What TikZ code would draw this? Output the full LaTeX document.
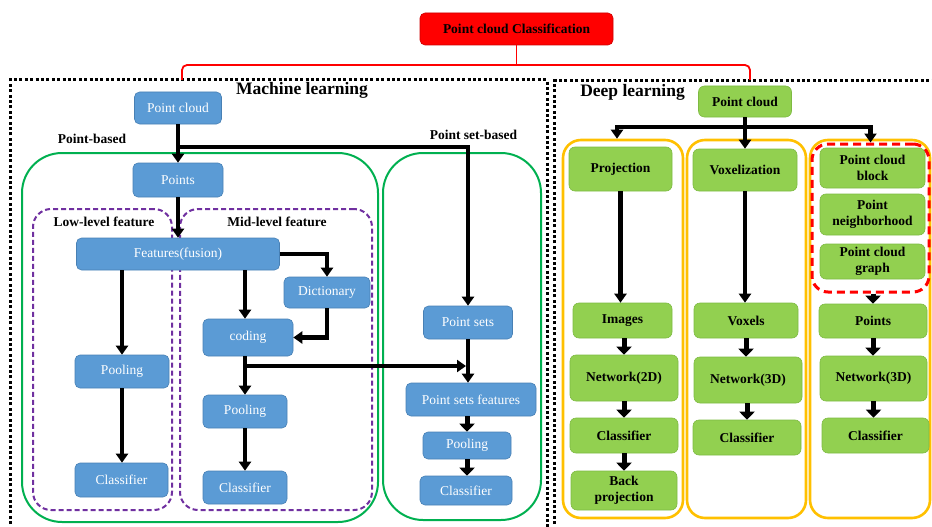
\documentclass[tikz,border=0pt]{standalone}
\usepackage{fontspec}
\setmainfont{Liberation Serif}
\usetikzlibrary{arrows.meta}

\newlength{\du}
\setlength{\du}{1pt}

\definecolor{blockblue}{RGB}{91,155,213}
\definecolor{blueedge}{RGB}{72,128,180}
\definecolor{blockgreen}{RGB}{146,208,80}
\definecolor{greenedge}{RGB}{126,186,66}
\definecolor{framegreen}{RGB}{0,176,80}
\definecolor{frameyellow}{RGB}{255,192,0}
\definecolor{framepurple}{RGB}{112,48,160}
\definecolor{titlered}{RGB}{255,0,0}

\tikzset{
  dims/.style 2 args={minimum width=#1\du, minimum height=#2\du},
  blueblock/.style={draw=blueedge, line width=0.6\du, fill=blockblue, rounded corners=5\du,
    text=white, font=\fontsize{13.5}{16}\selectfont, inner sep=0pt, align=center},
  greenblock/.style={draw=greenedge, line width=0.6\du, fill=blockgreen, rounded corners=6\du,
    text=black, font=\fontsize{13.5}{16}\selectfont\bfseries, inner sep=0pt, align=center},
  titleblock/.style={draw=titlered!80!black, line width=0.6\du, fill=titlered, rounded corners=5\du,
    text=black, font=\fontsize{13.5}{16}\selectfont\bfseries, inner sep=0pt},
  headline/.style={font=\fontsize{17.5}{20}\selectfont\bfseries, inner sep=0pt},
  grouplabel/.style={font=\fontsize{13.5}{16}\selectfont\bfseries, inner sep=0pt},
  arrowline/.style={draw=black, line width=4.2\du, -{Triangle[length=9pt,width=12pt]}},
  shortarrow/.style={draw=black, line width=5\du, -{Triangle[length=8pt,width=15pt]}},
  redline/.style={draw=titlered, line width=1.8\du},
  dotframe/.style={draw=black, line width=3\du, dash pattern=on 3pt off 2.4pt},
  greenframe/.style={draw=framegreen, line width=2\du, rounded corners=40\du, inner sep=0pt},
  purpleframe/.style={draw=framepurple, line width=2\du, dash pattern=on 5pt off 3pt,
    rounded corners=18\du, inner sep=0pt},
  yellowframe/.style={draw=frameyellow, line width=2.6\du, rounded corners=18\du, inner sep=0pt},
  redframe/.style={draw=titlered, line width=3\du, dash pattern=on 8pt off 5pt,
    rounded corners=16\du, inner sep=0pt}
}

\begin{document}
\begin{tikzpicture}
\pgftransformxscale{1.000000}
\pgftransformyscale{-1.000000}
\useasboundingbox (0\du,0\du) rectangle (932\du,527\du);

% frames
\draw[dotframe] (10\du,535\du) -- (10\du,80\du) -- (547\du,80\du) -- (547\du,535\du);
\draw[dotframe] (554\du,535\du) -- (554\du,81\du) -- (940\du,81\du);
\node[greenframe, dims={356}{369}] (ptframe) at (200\du,337.5\du) {};
\node[greenframe, dims={158}{367}] (setframe) at (462\du,336.5\du) {};
\node[purpleframe, dims={139}{301}] (lowframe) at (102.5\du,359.5\du) {};
\node[purpleframe, dims={192}{301}] (midframe) at (276\du,359.5\du) {};
\node[yellowframe, dims={120}{378}] (col1) at (623\du,329\du) {};
\node[yellowframe, dims={119}{378}] (col2) at (746.5\du,329\du) {};
\node[yellowframe, dims={120}{378}] (col3) at (870\du,329\du) {};
\node[redframe, dims={117}{148}] (pcgroup) at (870.5\du,218\du) {};

% title
\node[titleblock, dims={193}{32}] (title) at (516.5\du,29\du) {Point cloud Classification};
\coordinate (mlhook) at (182\du,80\du);
\coordinate (dlhook) at (750\du,80\du);
\draw[redline, rounded corners=5\du] (mlhook) -- (182\du,65\du) -- (750\du,65\du) -- (dlhook);
\draw[redline] (title.south) -- (title.south |- 0\du,65\du);

\node[headline] (mltitle) at (302\du,90\du) {Machine learning};
\node[headline] (dltitle) at (632.5\du,92\du) {Deep learning};
\node[grouplabel] (pbased) at (92\du,139\du) {Point-based};
\node[grouplabel] (psbased) at (473.5\du,135\du) {Point set-based};
\node[grouplabel] (lowlabel) at (104\du,222\du) {Low-level feature};
\node[grouplabel] (midlabel) at (277\du,222\du) {Mid-level feature};

% machine learning
\node[blueblock, dims={87}{32}] (mlcloud) at (178\du,108\du) {Point cloud};
\node[blueblock, dims={90}{34}] (mlpoints) at (178\du,180\du) {Points};
\node[blueblock, dims={203}{32}] (fusion) at (178\du,254\du) {Features(fusion)};
\node[blueblock, dims={86}{31}] (dict) at (327\du,292.5\du) {Dictionary};
\node[blueblock, dims={90}{37}] (coding) at (248\du,337.5\du) {coding};
\node[blueblock, dims={94}{33}] (poollow) at (122\du,371.5\du) {Pooling};
\node[blueblock, dims={93}{34}] (clslow) at (121.5\du,480\du) {Classifier};
\node[blueblock, dims={84}{33}] (poolmid) at (245\du,411.5\du) {Pooling};
\node[blueblock, dims={84}{33}] (clsmid) at (245\du,487.5\du) {Classifier};
\node[blueblock, dims={89}{33}] (psets) at (468\du,322.5\du) {Point sets};
\node[blueblock, dims={130}{33}] (psfeat) at (471\du,399.5\du) {Point sets features};
\node[blueblock, dims={88}{27}] (poolps) at (467\du,445.5\du) {Pooling};
\node[blueblock, dims={92}{29}] (clsps) at (466\du,490.5\du) {Classifier};

\draw[arrowline] (mlcloud.south) -- (mlpoints.north);
\coordinate (splitml) at (178\du,147\du);
\draw[arrowline] (splitml) -| (psets.north);
\draw[arrowline] (mlpoints.south) -- (fusion.north);
\draw[arrowline] (fusion.east) -| (dict.north);
\draw[arrowline] (dict.south) |- (coding.east);
\draw[arrowline] (fusion.south -| poollow.north) -- (poollow.north);
\draw[arrowline] (poollow.south) -- (poollow.south |- clslow.north);
\draw[arrowline] (fusion.south -| poolmid.north) -- (poolmid.north |- coding.north);
\draw[arrowline] (poolmid.north |- coding.south) -- (poolmid.north);
\draw[arrowline] (poolmid.south) -- (poolmid.south |- clsmid.north);
\coordinate (splitcd) at (245\du,366\du);
\draw[arrowline, shorten >=2pt] (splitcd) -- (splitcd -| psets.south);
\draw[arrowline] (psets.south) -- (psets.south |- psfeat.north);
\draw[shortarrow] (psfeat.south -| poolps.north) -- (poolps.north);
\draw[shortarrow] (poolps.south) -- (poolps.south |- clsps.north);

% deep learning
\node[greenblock, dims={93}{31}] (dlcloud) at (745\du,101.5\du) {Point cloud};
\node[greenblock, dims={103}{44}] (proj) at (620.5\du,169\du) {Projection};
\node[greenblock, dims={104}{42}] (voxel) at (745\du,170\du) {Voxelization};
\node[greenblock, dims={105}{40}] (pcblock) at (872.5\du,168\du) {Point cloud\\block};
\node[greenblock, dims={105}{41}] (pneigh) at (872.5\du,214.5\du) {Point\\neighborhood};
\node[greenblock, dims={105}{35}] (pcgraph) at (872.5\du,261.5\du) {Point cloud\\graph};
\node[greenblock, dims={99}{35}] (images) at (622.5\du,320.5\du) {Images};
\node[greenblock, dims={108}{46}] (net2d) at (624\du,378\du) {Network(2D)};
\node[greenblock, dims={108}{35}] (cls2d) at (624\du,435.5\du) {Classifier};
\node[greenblock, dims={106}{39}] (backproj) at (624\du,490.5\du) {Back\\projection};
\node[greenblock, dims={104}{35}] (voxels) at (746\du,320.5\du) {Voxels};
\node[greenblock, dims={108}{46}] (net3dv) at (748\du,380\du) {Network(3D)};
\node[greenblock, dims={108}{35}] (cls3dv) at (747\du,437.5\du) {Classifier};
\node[greenblock, dims={108}{34}] (points) at (873\du,321\du) {Points};
\node[greenblock, dims={107}{45}] (net3dp) at (873.5\du,378.5\du) {Network(3D)};
\node[greenblock, dims={107}{35}] (cls3dp) at (875.5\du,435.5\du) {Classifier};

\draw[arrowline] (dlcloud.south) -- (voxel.north);
\coordinate (dlsplit) at (745\du,127\du);
\draw[arrowline] (dlsplit) -| ([xshift=-6pt]col1.north);
\draw[arrowline] (dlsplit) -| (pcgroup.north);
\draw[arrowline] (proj.south) -- (proj.south |- images.north);
\draw[shortarrow] (images.south -| net2d.north) -- (net2d.north);
\draw[shortarrow] (net2d.south) -- (net2d.south |- cls2d.north);
\draw[shortarrow] (cls2d.south) -- (cls2d.south |- backproj.north);
\draw[arrowline] (voxel.south) -- (voxel.south |- voxels.north);
\draw[shortarrow] (voxels.south) -- (voxels.south |- net3dv.north);
\draw[shortarrow] (net3dv.south -| cls3dv.north) -- (cls3dv.north);
\draw[shortarrow] (pcgroup.south -| points.north) -- (points.north);
\draw[shortarrow] (points.south) -- (points.south |- net3dp.north);
\draw[shortarrow] (net3dp.south) -- (net3dp.south |- cls3dp.north);
\end{tikzpicture}
\end{document}
